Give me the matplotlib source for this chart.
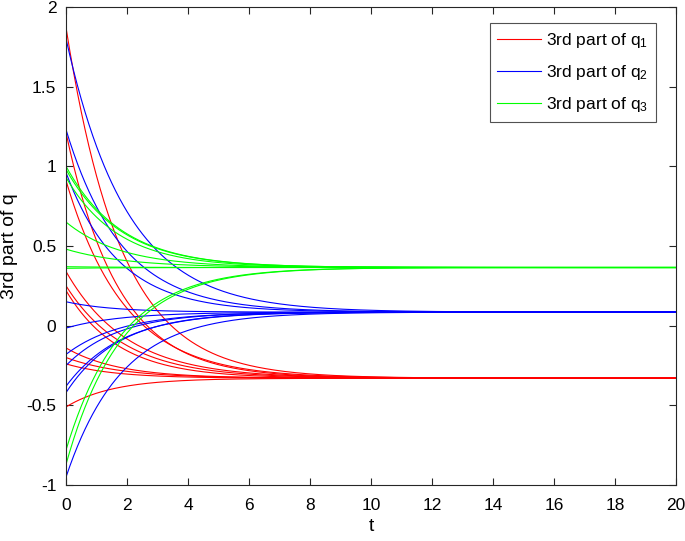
import numpy as np
import matplotlib
matplotlib.use("Agg")
import matplotlib.pyplot as plt

plt.rcParams['font.family'] = ['Liberation Sans', 'DejaVu Sans']
plt.rcParams['mathtext.fontset'] = 'custom'
plt.rcParams['mathtext.rm'] = 'Liberation Sans'
plt.rcParams['mathtext.it'] = 'Liberation Sans'

# final consensus values
final_q1 = -0.33
final_q2 = 0.085
final_q3 = 0.365

# initial values and decay rates
q1_init = [1.87, 1.21, 0.91, 0.34, 0.25, 0.22, -0.14, -0.20, -0.24, -0.51]
q1_rate = [0.55, 0.58, 0.52, 0.50, 0.52, 0.58, 0.58, 0.55, 0.62, 0.65]
q2_init = [1.80, 1.23, 0.96, 0.15, -0.015, -0.18, -0.25, -0.38, -0.42, -0.95]
q2_rate = [0.50, 0.55, 0.58, 0.65, 0.55, 0.55, 0.58, 0.55, 0.58, 0.55]
q3_init = [1.00, 0.98, 0.93, 0.65, 0.48, 0.37, 0.36, -0.78, -0.87]
q3_rate = [0.55, 0.55, 0.58, 0.55, 0.50, 0.55, 0.55, 0.55, 0.55]

t = np.linspace(0, 20, 801)

fig = plt.figure(figsize=(6.85, 5.41), dpi=100)
ax = fig.add_axes([0.0964, 0.1035, 0.8906, 0.8836])

def draw(inits, rates, final, color, label):
    for i, (y0, k) in enumerate(zip(inits, rates)):
        y = final + (y0 - final) * np.exp(-k * t)
        ax.plot(t, y, color=color, lw=0.8, label=label if i == 0 else None)

draw(q1_init, q1_rate, final_q1, '#ff0000', '3rd part of q$_1$')
draw(q2_init, q2_rate, final_q2, '#0000ff', '3rd part of q$_2$')
draw(q3_init, q3_rate, final_q3, '#00ff00', '3rd part of q$_3$')

ax.set_xlim(0, 20)
ax.set_ylim(-1, 2)
ax.set_xticks(np.arange(0, 21, 2))
ax.set_yticks([-1, -0.5, 0, 0.5, 1, 1.5, 2])
ax.set_yticklabels(['-1', '-0.5', '0', '0.5', '1', '1.5', '2'])
ax.tick_params(direction='in', top=True, right=True, labelsize=12.5, length=5,
               width=0.8, colors='#262626', labelcolor='black')
ax.tick_params(axis='x', pad=9)
ax.tick_params(axis='y', pad=7)
for sp in ax.spines.values():
    sp.set_linewidth(0.8)
    sp.set_color('#262626')
ax.set_xlabel('t', fontsize=14, labelpad=4)
ax.set_ylabel('3rd part of q', fontsize=14, labelpad=6)

leg = ax.legend(loc='upper right', bbox_to_anchor=(0.967, 0.9665), borderaxespad=0,
                fontsize=12.5, frameon=True, fancybox=False, edgecolor='#262626',
                handlelength=2.5, handletextpad=0.3, borderpad=0.45, labelspacing=0.75)
leg.get_frame().set_linewidth(0.8)

fig.savefig('out.png', dpi=100)
